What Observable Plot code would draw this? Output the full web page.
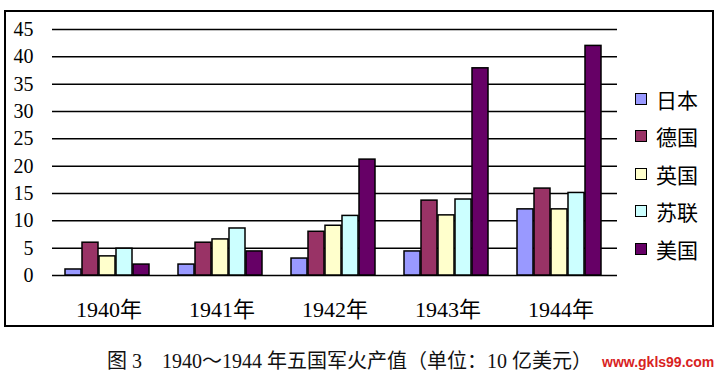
<!DOCTYPE html>
<html>
<head>
<meta charset="utf-8">
<script src="https://cdn.jsdelivr.net/npm/d3@7"></script>
<script src="https://cdn.jsdelivr.net/npm/@observablehq/plot@0.6"></script>
<style>
  body { margin: 0; background: #fff; }
  #wrap { position: relative; width: 718px; height: 379px; overflow: hidden; }
  #chart { position: absolute; left: 0; top: 0; }
  #frame { position: absolute; left: 4px; top: 10px; width: 706px; height: 313px; border: 2px solid #000; pointer-events: none; }
  #legend { position: absolute; left: 635px; top: 80px; font-family: "Noto Sans CJK SC", sans-serif; font-size: 21px; color: #000; }
  .item { display: flex; align-items: center; height: 37.5px; }
  .sw { width: 10px; height: 10px; border: 1.5px solid #000; margin-right: 9px; }
  #caption { position: absolute; left: 107px; top: 345px; font-family: "Liberation Serif", "Noto Sans CJK SC", serif; font-size: 20px; color: #111; white-space: pre; }
  #wm { position: absolute; left: 602px; top: 354px; font-family: "Liberation Sans", Arial, sans-serif; font-weight: bold; font-size: 14px; color: #d8231f; }
</style>
</head>
<body>
<div id="wrap">
  <div id="chart"></div>
  <div id="frame"></div>
  <div id="legend"></div>
  <div id="caption"></div>
  <div id="wm">www.gkls99.com</div>
</div>
<script>
const years = ["1940年", "1941年", "1942年", "1943年", "1944年"];
const countries = ["日本", "德国", "英国", "苏联", "美国"];
const japan   = [1.1, 2.0, 3.1, 4.4, 12.1];
const germany = [6.0, 6.0, 8.0, 13.7, 15.9];
const britain = [3.5, 6.6, 9.1, 11.0, 12.1];
const ussr    = [4.9, 8.6, 10.9, 13.9, 15.1];
const usa     = [2.0, 4.4, 21.2, 37.9, 42.0];
const colors  = ["#9999FF", "#993366", "#FFFFCC", "#CCFFFF", "#660066"];
const yTicks  = [0, 5, 10, 15, 20, 25, 30, 35, 40, 45];
const captionText = "图 3　1940～1944 年五国军火产值（单位：10 亿美元）";

const series = [japan, germany, britain, ussr, usa];
const data = [];
years.forEach((yr, i) => {
  countries.forEach((c, j) => data.push({year: yr, country: c, value: series[j][i]}));
});

const chart = Plot.plot({
  width: 718,
  height: 335,
  marginLeft: 51,
  marginRight: 101,
  marginTop: 29,
  marginBottom: 60,
  style: {fontFamily: "'Liberation Serif', 'Noto Sans CJK SC', serif", background: "transparent", color: "#000"},
  fx: {domain: years, paddingInner: 0, paddingOuter: 0, label: null},
  x: {domain: countries, paddingInner: 0.08, paddingOuter: 0.77, align: 0.45, axis: null},
  y: {domain: [0, 45], label: null},
  color: {domain: countries, range: colors},
  marks: [
    Plot.gridY(yTicks, {stroke: "#000", strokeOpacity: 1, strokeWidth: 1.5}),
    Plot.barY(data, {fx: "year", x: "country", y: "value", fill: "country", stroke: "#000", strokeWidth: 1.5}),
    Plot.axisY(yTicks, {tickSize: 0, tickPadding: 19, fontSize: 20, label: null, fill: "#000"}),
    Plot.axisFx({anchor: "bottom", tickSize: 0, tickPadding: 26, fontSize: 22, label: null, fill: "#000"}),
    Plot.ruleX([0], {fx: () => years[0], x: () => undefined, y1: 0, y2: 45, stroke: "#000", strokeWidth: 1.5, frameAnchor: "left"})
  ]
});
document.getElementById("chart").appendChild(chart);

const legend = document.getElementById("legend");
countries.forEach((c, j) => {
  const it = document.createElement("div");
  it.className = "item";
  const sw = document.createElement("div");
  sw.className = "sw";
  sw.style.background = colors[j];
  const t = document.createElement("span");
  t.textContent = c;
  it.appendChild(sw); it.appendChild(t);
  legend.appendChild(it);
});
document.getElementById("caption").textContent = captionText;
</script>
</body>
</html>
